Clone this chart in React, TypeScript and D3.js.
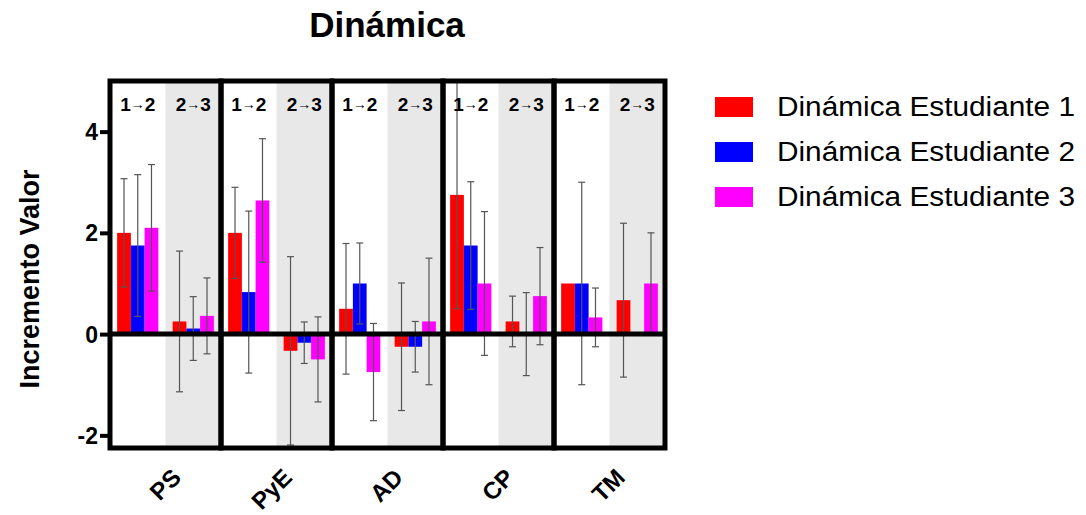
import React, { useRef, useEffect } from "react";
import * as d3 from "d3";

const categories = ["PS", "PyE", "AD", "CP", "TM"];
const transitions = ["1→2", "2→3"];
const seriesNames = [
  "Dinámica Estudiante 1",
  "Dinámica Estudiante 2",
  "Dinámica Estudiante 3",
];
const seriesColors = ["#ff0000", "#0000ff", "#ff00ff"];
const yTicks = [-2, 0, 2, 4];

// one value per category x transition: PS 1→2, PS 2→3, PyE 1→2, ...
const est1 = [2, 0.25, 2, -0.33, 0.5, -0.25, 2.75, 0.25, 1, 0.67];
const est1Err = [1.07, 1.39, 0.9, 1.86, 1.29, 1.26, 2.25, 0.5, 0, 1.52];
const est2 = [1.75, 0.11, 0.83, -0.17, 1, -0.25, 1.75, 0, 1, 0];
const est2Err = [1.4, 0.63, 1.6, 0.41, 0.8, 0.5, 1.26, 0.82, 2, 0];
const est3 = [2.1, 0.36, 2.64, -0.5, -0.75, 0.25, 1, 0.75, 0.33, 1];
const est3Err = [1.25, 0.75, 1.22, 0.84, 0.96, 1.25, 1.42, 0.96, 0.58, 1];

const values = [est1, est2, est3];
const errors = [est1Err, est2Err, est3Err];

const FONT = "'Liberation Sans', Arial, Helvetica, sans-serif";

const App = () => {
  const svgRef = useRef(null);

  useEffect(() => {
    const svg = d3.select(svgRef.current);
    svg.selectAll("*").remove();

    const left = 110;
    const right = 665;
    const top = 81;
    const bottom = 448;

    const x = d3.scaleBand().domain(categories).range([left, right]);
    const xSub = d3
      .scaleBand()
      .domain(transitions)
      .range([0, x.bandwidth()]);
    const xBar = d3
      .scaleBand()
      .domain(seriesNames)
      .range([0, xSub.bandwidth()])
      .paddingOuter(0.52);
    const y = d3.scaleLinear().domain([-2.25, 5]).range([bottom, top]);

    const rows = [];
    categories.forEach((c, ci) => {
      transitions.forEach((t, ti) => {
        seriesNames.forEach((s, si) => {
          const idx = ci * 2 + ti;
          rows.push({
            c,
            t,
            s,
            color: seriesColors[si],
            v: values[si][idx],
            e: errors[si][idx],
          });
        });
      });
    });

    // grey background for 2→3
    svg
      .append("g")
      .selectAll("rect")
      .data(categories)
      .join("rect")
      .attr("x", (d) => x(d) + xSub("2→3"))
      .attr("y", top)
      .attr("width", xSub.bandwidth())
      .attr("height", bottom - top)
      .attr("fill", "#e8e8e8");

    const barX = (d) => x(d.c) + xSub(d.t) + xBar(d.s);

    svg
      .append("g")
      .selectAll("rect")
      .data(rows)
      .join("rect")
      .attr("x", barX)
      .attr("width", xBar.bandwidth())
      .attr("y", (d) => y(Math.max(0, d.v)))
      .attr("height", (d) => Math.abs(y(d.v) - y(0)))
      .attr("fill", (d) => d.color);

    // error bars
    const eb = svg
      .append("g")
      .attr("stroke", "#555")
      .attr("stroke-width", 1.2)
      .selectAll("g")
      .data(rows.filter((d) => d.e > 0))
      .join("g");
    eb.append("line")
      .attr("x1", (d) => barX(d) + xBar.bandwidth() / 2)
      .attr("x2", (d) => barX(d) + xBar.bandwidth() / 2)
      .attr("y1", (d) => y(d.v + d.e))
      .attr("y2", (d) => y(d.v - d.e));
    [1, -1].forEach((sign) => {
      eb.append("line")
        .attr("x1", (d) => barX(d) + xBar.bandwidth() / 2 - 3.5)
        .attr("x2", (d) => barX(d) + xBar.bandwidth() / 2 + 3.5)
        .attr("y1", (d) => y(d.v + sign * d.e))
        .attr("y2", (d) => y(d.v + sign * d.e));
    });

    // zero line
    svg
      .append("line")
      .attr("x1", left)
      .attr("x2", right)
      .attr("y1", y(0))
      .attr("y2", y(0))
      .attr("stroke", "#000")
      .attr("stroke-width", 5);

    // panel frames
    svg
      .append("g")
      .selectAll("rect")
      .data(categories)
      .join("rect")
      .attr("x", (d) => x(d))
      .attr("y", top)
      .attr("width", x.bandwidth())
      .attr("height", bottom - top)
      .attr("fill", "none")
      .attr("stroke", "#000")
      .attr("stroke-width", 5);

    // transition labels
    const tl = svg
      .append("g")
      .selectAll("text")
      .data(categories.flatMap((c) => transitions.map((t) => ({ c, t }))))
      .join("text")
      .attr("x", (d) => x(d.c) + xSub(d.t) + xSub.bandwidth() / 2)
      .attr("y", 111)
      .attr("text-anchor", "middle")
      .style("font-family", FONT)
      .style("font-weight", "bold")
      .style("font-size", "19px");
    tl.append("tspan").text((d) => d.t[0]);
    tl.append("tspan")
      .style("font-size", "14px")
      .attr("dy", -2)
      .text("→");
    tl.append("tspan")
      .attr("dy", 2)
      .text((d) => d.t[2]);

    // y axis
    const yAxis = d3
      .axisLeft(y)
      .tickValues(yTicks)
      .tickSize(10)
      .tickPadding(2)
      .tickFormat((d) => `${d}`);
    const ga = svg
      .append("g")
      .attr("transform", `translate(${left},0)`)
      .call(yAxis);
    ga.select(".domain").remove();
    ga.selectAll("line").attr("stroke", "#000").attr("stroke-width", 4);
    ga.selectAll("text")
      .attr("fill", "#000")
      .style("font-family", FONT)
      .style("font-weight", "bold")
      .style("font-size", "23px")
      .attr("dy", "0.35em");

    // x labels
    svg
      .append("g")
      .selectAll("text")
      .data(categories)
      .join("text")
      .attr(
        "transform",
        (d) => `translate(${x(d) + x.bandwidth() / 2 + 17},479) rotate(-45)`
      )
      .attr("text-anchor", "end")
      .style("font-family", FONT)
      .style("font-weight", "bold")
      .style("font-size", "24px")
      .text((d) => d);

    // title
    svg
      .append("text")
      .attr("x", 387)
      .attr("y", 37)
      .attr("text-anchor", "middle")
      .style("font-family", FONT)
      .style("font-weight", "bold")
      .style("font-size", "35px")
      .text("Dinámica");

    // y label
    svg
      .append("text")
      .attr("transform", "translate(39,279) rotate(-90)")
      .attr("text-anchor", "middle")
      .style("font-family", FONT)
      .style("font-weight", "bold")
      .style("font-size", "27px")
      .text("Incremento Valor");

    // legend
    const lg = svg
      .append("g")
      .selectAll("g")
      .data(seriesNames)
      .join("g")
      .attr("transform", (d, i) => `translate(715,${107 + i * 45})`);
    lg.append("rect")
      .attr("x", 0)
      .attr("y", -10)
      .attr("width", 38)
      .attr("height", 20)
      .attr("fill", (d, i) => seriesColors[i]);
    lg.append("text")
      .attr("x", 62)
      .attr("y", 9)
      .attr("textLength", 298)
      .attr("lengthAdjust", "spacingAndGlyphs")
      .style("font-family", FONT)
      .style("font-size", "27px")
      .text((d) => d);
  }, []);

  return (
    <svg
      ref={svgRef}
      width={1086}
      height={515}
      style={{ position: "absolute", left: 0, top: 0, background: "#fff" }}
    ></svg>
  );
};

export default App;
